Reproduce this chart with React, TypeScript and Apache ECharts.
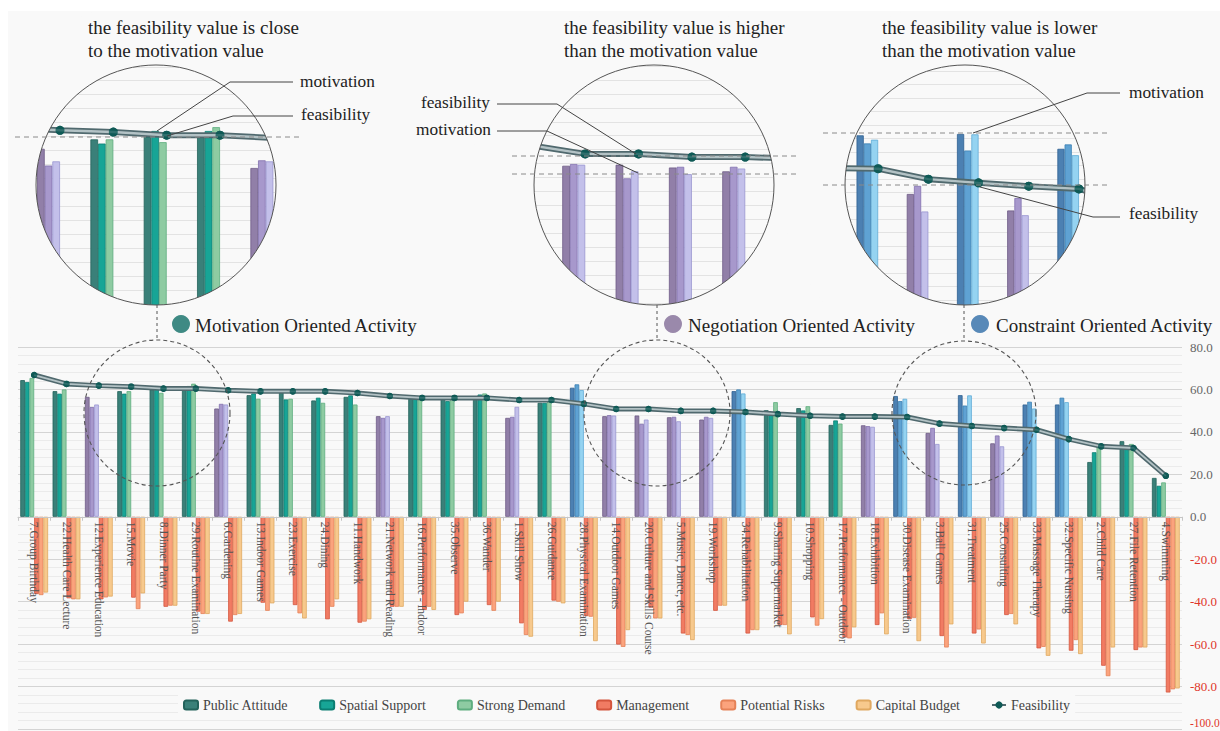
import React, { useEffect, useRef } from 'react';
import * as echarts from 'echarts';

const categories = ['7.Group Birthday', '22.Health Care Lecture', '12.Experience Education', '15.Movie', '8.Dinner Party', '29.Routine Examination', '6.Gardening', '13.Indoor Games', '23.Exercise', '24.Dining', '11.Handwork', '21.Network and Reading', '16.Performance - Indoor', '35.Observe', '36.Wander', '1.Skill Show', '26.Guidance', '28.Physical Examination', '14.Outdoor Games', '20.Culture and Skills Course', '5.Music, Dance, etc.', '19.Workshop', '34.Rehabilitation', '9.Sharing Supermarket', '10.Shopping', '17.Performance - Outdoor', '18.Exhibition', '30.Disease Examination', '3.Ball Games', '31.Treatment', '25.Consulting', '33.Massage Therapy', '32.Specific Nursing', '2.Child Care', '27.File Retention', '4.Swimming'];

// M = motivation oriented, N = negotiation oriented, C = constraint oriented
const activityType = ['M', 'M', 'N', 'M', 'M', 'M', 'N', 'M', 'M', 'M', 'M', 'N', 'M', 'M', 'M', 'N', 'M', 'C', 'N', 'N', 'N', 'N', 'C', 'M', 'M', 'M', 'N', 'C', 'N', 'C', 'N', 'C', 'C', 'M', 'M', 'M'];

const publicAttitude = [64.4, 59.2, 56.5, 59.2, 60.0, 60.8, 51.0, 57.3, 58.9, 54.8, 56.5, 47.4, 55.6, 55.6, 56.1, 46.6, 53.7, 60.8, 47.4, 47.7, 46.9, 45.8, 59.2, 50.2, 51.2, 43.3, 43.1, 56.9, 39.5, 57.3, 34.6, 52.9, 52.9, 25.8, 35.6, 18.3];
const spatialSupport = [63.5, 58.0, 51.7, 58.0, 61.6, 61.6, 53.2, 58.1, 55.3, 56.1, 57.2, 46.6, 56.1, 54.5, 57.6, 47.1, 53.7, 62.4, 47.9, 43.8, 47.1, 47.1, 60.0, 48.7, 50.1, 45.4, 42.7, 54.5, 41.9, 52.4, 38.3, 54.2, 56.1, 30.4, 33.5, 14.6];
const strongDemand = [65.4, 60.0, 52.9, 59.2, 58.4, 62.7, 52.9, 55.6, 55.6, 53.7, 52.9, 47.4, 56.1, 55.6, 58.1, 51.8, 54.5, 59.7, 47.7, 45.8, 45.0, 46.6, 58.1, 54.0, 52.1, 43.9, 42.4, 55.6, 34.3, 57.2, 33.2, 51.0, 54.0, 33.5, 34.3, 16.2];
const management = [-36.4, -38.4, -38.9, -38.1, -42.4, -44.7, -49.4, -40.5, -41.6, -48.3, -49.9, -42.4, -43.9, -46.3, -41.6, -50.2, -39.5, -46.8, -60.2, -42.8, -55.0, -44.3, -55.0, -51.0, -47.4, -56.9, -51.0, -48.2, -56.2, -55.0, -46.3, -62.0, -63.1, -70.2, -62.8, -82.8];
const potentialRisks = [-36.9, -38.9, -38.0, -43.5, -41.9, -45.8, -46.3, -44.3, -45.5, -42.4, -49.4, -42.4, -42.4, -45.5, -44.3, -55.7, -40.0, -47.1, -61.3, -47.9, -55.7, -41.9, -53.4, -51.0, -51.3, -57.3, -45.5, -47.6, -61.6, -53.1, -45.8, -61.3, -58.1, -75.1, -61.6, -81.3];
const capitalBudget = [-35.7, -38.9, -37.6, -36.1, -41.9, -45.8, -45.8, -40.8, -47.9, -38.9, -48.3, -42.4, -43.9, -40.0, -40.0, -56.5, -40.8, -58.6, -53.4, -47.9, -58.1, -41.9, -53.4, -55.4, -48.2, -52.1, -55.4, -58.6, -50.7, -59.7, -50.7, -65.5, -64.7, -61.6, -61.6, -80.9];
const feasibility = [66.8, 62.6, 61.8, 61.3, 60.4, 60.4, 59.6, 59.1, 59.1, 59.1, 58.3, 56.9, 56.0, 56.0, 56.0, 55.0, 55.0, 53.2, 50.8, 50.8, 49.9, 49.9, 49.4, 48.4, 47.6, 47.2, 47.2, 47.0, 43.9, 42.8, 41.8, 41.0, 36.6, 33.2, 32.4, 19.3];

const yTicks = { min: -100, max: 80, step: 20 };

const positiveNames = ['Public Attitude', 'Spatial Support', 'Strong Demand'];
const negativeNames = ['Management', 'Potential Risks', 'Capital Budget'];
const positiveSeries = [publicAttitude, spatialSupport, strongDemand];
const negativeSeries = [management, potentialRisks, capitalBudget];

const FONT = '"Liberation Serif", "Times New Roman", serif';
const BG = '#f9f9f9';

const palette: Record<string, string[][]> = {
  M: [['#3a8079', '#23625b'], ['#17a596', '#0b7e72'], ['#8ecba2', '#5ead7f']],
  N: [['#917fa8', '#6e5c87'], ['#a798cc', '#8170ae'], ['#c3c0ea', '#9995d0']],
  C: [['#4c80b2', '#2f5f90'], ['#5fa2d3', '#3b80b3'], ['#95d3f1', '#5fabd5']],
};
const negPalette = [['#f17b63', '#d4553d'], ['#fba37d', '#e58258'], ['#f7c98d', '#e0a860']];

const insets = [
  { cx: 156, cy: 185, xMin: 1.55, xMax: 6.05, yMin: 8, yMax: 84, top: 52.8, height: 265.3 },
  { cx: 654, cy: 185, xMin: 17.04, xMax: 21.54, yMin: 4, yMax: 80, top: 52, height: 265.2 },
  { cx: 965, cy: 185, xMin: 26.34, xMax: 31.12, yMin: 4, yMax: 80, top: 57.5, height: 256.1 },
];

type Range = [number, number] | null;
const inRange = (i: number, r: Range) => !r || (i >= r[0] && i <= r[1]);

function posItems(values: number[], k: number, r: Range) {
  const out: any[] = [];
  values.forEach((v, i) => {
    if (!inRange(i, r)) return;
    const c = palette[activityType[i]][k];
    out.push({
      value: r ? [i, v] : v,
      itemStyle: { color: c[0], borderColor: c[1], borderWidth: 0.8 },
    });
  });
  return out;
}
function negItems(values: number[], r: Range) {
  const out: any[] = [];
  values.forEach((v, i) => {
    if (!inRange(i, r)) return;
    out.push(r ? [i, v] : v);
  });
  return out;
}

function barSeries(ax: number, r: Range, prefix: string, z: number) {
  const out: any[] = [];
  positiveSeries.forEach((vals, k) => {
    const c = palette.M[k];
    out.push({
      type: 'bar', name: prefix + positiveNames[k], xAxisIndex: ax, yAxisIndex: ax, z, clip: true,
      data: posItems(vals, k, r),
      itemStyle: { color: c[0], borderColor: c[1], borderWidth: 0.8 },
      barGap: '0%', barCategoryGap: '14%',
    });
  });
  negativeSeries.forEach((vals, k) => {
    const c = negPalette[k];
    out.push({
      type: 'bar', name: prefix + negativeNames[k], xAxisIndex: ax, yAxisIndex: ax, z, clip: true,
      data: negItems(vals, r),
      itemStyle: { color: c[0], borderColor: c[1], borderWidth: 0.8 },
      barGap: '0%', barCategoryGap: '14%',
    });
  });
  return out;
}

function lineSeries(ax: number, inset: boolean, prefix: string, z: number) {
  const data = feasibility.map((v, i) => (inset ? [i, v] : v));
  const w = inset ? 6 : 5;
  const s = inset ? 9 : 6.5;
  return [
    {
      type: 'line', name: prefix + 'Feasibility', xAxisIndex: ax, yAxisIndex: ax, z, data, clip: true,
      lineStyle: { color: '#50696e', width: w }, symbol: 'circle', symbolSize: s,
      itemStyle: { color: '#0f5a56' },
    },
    {
      type: 'line', name: prefix + 'feas-inner', xAxisIndex: ax, yAxisIndex: ax, z: z + 1, data, clip: true,
      lineStyle: { color: '#b3c2c5', width: inset ? 2.4 : 1.8 }, symbol: 'none',
    },
    {
      type: 'scatter', name: prefix + 'feas-dots', xAxisIndex: ax, yAxisIndex: ax, z: z + 2, data, clip: true,
      symbolSize: s, itemStyle: { color: '#0f5a56' },
    },
  ];
}

function txt(text: string, x: number, y: number, size: number, align = 'left', z = 14) {
  return {
    type: 'text', x, y, z, silent: true,
    style: { text, fill: '#222', fontSize: size, fontFamily: FONT, align, verticalAlign: 'middle' },
  };
}
function dashLine(x1: number, y1: number, x2: number, y2: number) {
  return {
    type: 'line', z: 13, silent: true,
    shape: { x1, y1, x2, y2 },
    style: { stroke: '#8a8a8a', lineWidth: 1, lineDash: [5, 4] },
  };
}
function leader(points: number[][]) {
  return {
    type: 'polyline', z: 14, silent: true,
    shape: { points },
    style: { stroke: '#444', lineWidth: 1, fill: 'none' },
  };
}

export default function App() {
  const ref = useRef<HTMLDivElement>(null);
  useEffect(() => {
    if (!ref.current) return;
    const chart = echarts.init(ref.current, undefined, { renderer: 'svg' });

    const gridTop = 347;
    const gridBottom = 2;
    const gridHeight = 731 - gridTop - gridBottom;
    const zeroOffset = -((0 - yTicks.min) / (yTicks.max - yTicks.min)) * gridHeight;

    const grids: any[] = [{ left: 18, right: 38, top: gridTop, bottom: gridBottom, containLabel: false, outerBoundsMode: 'none' }];
    const xAxes: any[] = [{
      type: 'category', gridIndex: 0, data: categories, z: 12, position: 'bottom', offset: zeroOffset,
      axisLine: { onZero: false, lineStyle: { color: '#c6c6c6' } },
      axisTick: { show: true, length: 4, lineStyle: { color: '#c6c6c6' } },
      axisLabel: { interval: 0, rotate: -90, margin: 5, color: '#555', fontSize: 11.5, fontFamily: FONT, padding: [8, 0, 0, 0] },
      splitLine: { show: false },
    }];
    const yAxes: any[] = [{
      type: 'value', gridIndex: 0, position: 'right', min: yTicks.min, max: yTicks.max, interval: yTicks.step, z: 7,
      axisLine: { show: false }, axisTick: { show: false },
      axisLabel: {
        margin: 8,
        verticalAlignMinLabel: 'bottom',
        formatter: (v: number) => (v <= yTicks.min ? `{m|${v.toFixed(1)}}` : v < 0 ? `{n|${v.toFixed(1)}}` : `{p|${v.toFixed(1)}}`),
        rich: {
          m: { color: '#e0362a', fontSize: 11.5, fontFamily: FONT },
          n: { color: '#e0362a', fontSize: 13, fontFamily: FONT },
          p: { color: '#666', fontSize: 13, fontFamily: FONT },
        },
      },
      splitLine: { lineStyle: { color: '#d4d4d4' } },
      minorTick: { show: false, splitNumber: 5 },
      minorSplitLine: { show: true, lineStyle: { color: '#ebebeb' } },
    }];
    let series: any[] = [...barSeries(0, null, '', 8), ...lineSeries(0, false, '', 9)];

    insets.forEach((s, j) => {
      const ax = j + 1;
      grids.push({ left: s.cx - 120, top: s.top, width: 240, height: s.height, containLabel: false, outerBoundsMode: 'none' });
      xAxes.push({ type: 'value', gridIndex: ax, min: s.xMin, max: s.xMax, show: false });
      yAxes.push({
        type: 'value', gridIndex: ax, min: s.yMin, max: s.yMax, interval: 4, z: 1,
        axisLine: { show: false }, axisTick: { show: false }, axisLabel: { show: false },
        splitLine: { lineStyle: { color: '#e3e3e3' } },
      });
      const r: Range = [Math.ceil(s.xMin), Math.floor(s.xMax)];
      series = series.concat(barSeries(ax, r, `inset${ax}-`, 2), lineSeries(ax, true, `inset${ax}-`, 3));
    });

    const graphics: any[] = [
      { type: 'rect', z: 7, silent: true, shape: { x: 0, y: 0, width: 1220, height: 11 }, style: { fill: '#ffffff' } },
      { type: 'rect', z: 7, silent: true, shape: { x: 0, y: 0, width: 8, height: 731 }, style: { fill: '#ffffff' } },
    ];
    insets.forEach((s) => {
      graphics.push({ type: 'ring', z: 6, silent: true, shape: { cx: s.cx, cy: s.cy, r: 184, r0: 120 }, style: { fill: BG } });
      graphics.push({ type: 'circle', z: 13, silent: true, shape: { cx: s.cx, cy: s.cy, r: 120 }, style: { fill: 'none', stroke: '#555', lineWidth: 1 } });
    });
    [[157, 73], [657, 73], [964, 72]].forEach(([cx, r]) => {
      graphics.push({ type: 'circle', z: 13, silent: true, shape: { cx, cy: 413, r }, style: { fill: 'none', stroke: '#555', lineWidth: 1.1, lineDash: [4, 3] } });
      graphics.push({ type: 'line', z: 13, silent: true, shape: { x1: cx, y1: 305, x2: cx, y2: 340 }, style: { stroke: '#555', lineWidth: 1, lineDash: [3, 3] } });
    });
    graphics.push({ type: 'circle', z: 14, silent: true, shape: { cx: 181, cy: 324, r: 9 }, style: { fill: '#3f8a84' } });
    graphics.push(txt('Motivation Oriented Activity', 195, 325, 19));
    graphics.push({ type: 'circle', z: 14, silent: true, shape: { cx: 673, cy: 324, r: 9 }, style: { fill: '#9a89ab' } });
    graphics.push(txt('Negotiation Oriented Activity', 688, 325, 19));
    graphics.push({ type: 'circle', z: 14, silent: true, shape: { cx: 980, cy: 324, r: 9 }, style: { fill: '#5889b8' } });
    graphics.push(txt('Constraint Oriented Activity', 996, 325, 19));
    graphics.push(txt('the feasibility value is close', 88, 27, 19));
    graphics.push(txt('to the motivation value', 88, 50, 19));
    graphics.push(txt('the feasibility value is higher', 564, 27, 19));
    graphics.push(txt('than the motivation value', 564, 50, 19));
    graphics.push(txt('the feasibility value is lower', 882, 27, 19));
    graphics.push(txt('than the motivation value', 882, 50, 19));
    graphics.push(dashLine(15, 137, 300, 137));
    graphics.push(leader([[157, 131], [230, 82], [293, 82]]));
    graphics.push(txt('motivation', 300, 81, 17.3));
    graphics.push(leader([[167, 136], [233, 116], [293, 116]]));
    graphics.push(txt('feasibility', 301, 114, 17.3));
    graphics.push(dashLine(512, 156, 797, 156));
    graphics.push(dashLine(512, 174, 797, 174));
    graphics.push(leader([[636, 154], [557, 104], [497, 104]]));
    graphics.push(txt('feasibility', 490, 102, 17.3, 'right'));
    graphics.push(leader([[638, 173], [547, 131], [497, 131]]));
    graphics.push(txt('motivation', 491, 129, 17.3, 'right'));
    graphics.push(dashLine(823, 133, 1108, 133));
    graphics.push(dashLine(823, 185, 1108, 185));
    graphics.push(leader([[973, 133], [1087, 93], [1120, 93]]));
    graphics.push(txt('motivation', 1129, 92, 17.3));
    graphics.push(leader([[980, 187], [1093, 217], [1120, 217]]));
    graphics.push(txt('feasibility', 1129, 213, 17.3));

    chart.setOption({
      animation: false,
      backgroundColor: BG,
      textStyle: { fontFamily: FONT },
      grid: grids,
      xAxis: xAxes,
      yAxis: yAxes,
      legend: {
        top: 695, left: 178, padding: [3, 5], z: 13, backgroundColor: BG,
        itemWidth: 14, itemHeight: 9, itemGap: 31,
        textStyle: { fontSize: 14, color: '#444', fontFamily: FONT },
        data: [...positiveNames, ...negativeNames, 'Feasibility'],
      },
      series,
      graphic: { elements: graphics },
    });
    return () => chart.dispose();
  }, []);
  return <div ref={ref} style={{ position: 'absolute', left: 0, top: 0, width: 1220, height: 731 }} />;
}
